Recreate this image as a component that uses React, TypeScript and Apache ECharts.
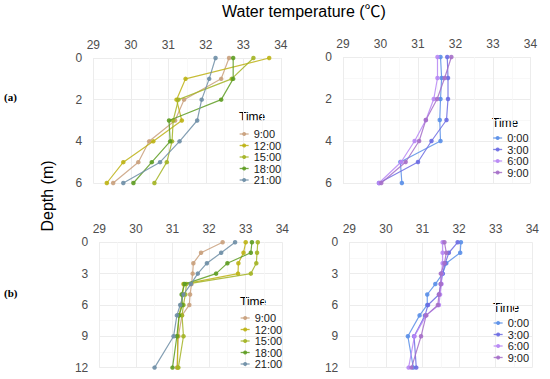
import React, { useEffect, useRef } from "react";
import * as echarts from "echarts";

// ---------- data ----------
const depthTop = [0, 1, 2, 3, 4, 5, 6];
const depthBottom = [0, 1, 2, 3, 4, 5, 6, 7, 9, 12];

const leftTimes = ["9:00", "12:00", "15:00", "18:00", "21:00"];
const rightTimes = ["0:00", "3:00", "6:00", "9:00"];

const leftColors = ["#C9A07C", "#BDB214", "#A3B424", "#5E9C22", "#6E8EA6"];
const rightColors = ["#5A8FE8", "#6C6CE2", "#B786F4", "#A56FC8"];

// (a) left panel: temperature per depth (depthTop)
const aLeft_0900 = [32.62, 32.41, 31.42, 31.18, 30.49, 30.2, 29.53];
const aLeft_1200 = [33.69, 31.46, 31.22, 31.36, 30.6, 29.8, 29.36];
const aLeft_1500 = [33.27, 32.69, 31.27, 31.13, 31.1, 30.96, 30.63];
const aLeft_1800 = [32.73, 32.73, 32.41, 31.02, 31.05, 30.56, 30.07];
const aLeft_2100 = [32.26, 32.09, 31.89, 31.77, 31.3, 30.78, 29.8];

// (a) right panel
const aRight_0000 = [31.6, 31.63, 31.6, 31.58, 31.6, 30.53, 30.57];
const aRight_0300 = [31.78, 31.8, 31.8, 31.76, 31.36, 31.0, 29.96];
const aRight_0600 = [31.52, 31.52, 31.42, 31.21, 30.91, 30.55, 29.96];
const aRight_0900 = [31.89, 31.71, 31.51, 31.21, 31.03, 30.67, 30.02];

// (b) left panel: temperature per depth (depthBottom)
const bLeft_0900 = [32.37, 31.78, 31.57, 31.55, 31.52, 31.48, 31.46, 31.26, 31.16, 31.12];
const bLeft_1200 = [33.0, 32.94, 32.8, 32.79, 31.3, 31.28, 31.24, 31.18, 31.14, 31.14];
const bLeft_1500 = [33.33, 33.31, 33.29, 33.14, 31.38, 31.35, 31.3, 31.26, 31.3, 31.16];
const bLeft_1800 = [33.17, 33.14, 32.5, 32.19, 31.33, 31.25, 31.27, 31.18, 31.12, 31.0];
const bLeft_2100 = [32.71, 32.33, 31.94, 31.69, 31.5, 31.3, 31.21, 31.12, 31.03, 30.51];

// (b) right panel
const bRight_0000 = [32.05, 32.03, 31.65, 31.55, 31.35, 31.13, 31.13, 30.92, 30.6, 30.75];
const bRight_0300 = [31.96, 31.72, 31.62, 31.55, 31.5, 31.45, 31.15, 31.07, 30.77, 30.83];
const bRight_0600 = [31.55, 31.55, 31.55, 31.52, 31.52, 31.48, 31.45, 31.1, 30.78, 30.62];
const bRight_0900 = [31.6, 31.65, 31.6, 31.5, 31.5, 31.45, 31.42, 31.1, 30.96, 30.7];

const xTicks = [29, 30, 31, 32, 33, 34];
const yTicksTop = [0, 2, 4, 6];
const yTicksBottom = [0, 3, 6, 9, 12];

const FONT = "'Liberation Sans', Arial, sans-serif";
const TITLE_FONT = "'Liberation Sans', 'Noto Sans CJK SC', sans-serif";

const panels = [
  { values: [aLeft_0900, aLeft_1200, aLeft_1500, aLeft_1800, aLeft_2100], names: leftTimes, colors: leftColors, depth: depthTop },
  { values: [aRight_0000, aRight_0300, aRight_0600, aRight_0900], names: rightTimes, colors: rightColors, depth: depthTop },
  { values: [bLeft_0900, bLeft_1200, bLeft_1500, bLeft_1800, bLeft_2100], names: leftTimes, colors: leftColors, depth: depthBottom },
  { values: [bRight_0000, bRight_0300, bRight_0600, bRight_0900], names: rightTimes, colors: rightColors, depth: depthBottom },
];

const grids = [
  { left: 93.3, top: 58, width: 187.5, height: 125 },
  { left: 343, top: 57, width: 187.5, height: 126 },
  { left: 99.3, top: 242.3, width: 183, height: 125.3 },
  { left: 349.3, top: 242.3, width: 183, height: 125.3 },
];

const legendPos = [
  { left: 239, top: 128.5, title: [239, 117] },
  { left: 492.5, top: 132.5, title: [492, 123] },
  { left: 240, top: 312.5, title: [240, 302] },
  { left: 493, top: 317.5, title: [493, 308] },
];

export default function App() {
  const ref = useRef<HTMLDivElement>(null);

  useEffect(() => {
    if (!ref.current) return;
    const chart = echarts.init(ref.current, undefined, { renderer: "svg" });

    const xAxis = grids.map((_, i) => ({
      type: "value",
      gridIndex: i,
      position: "top",
      min: xTicks[0],
      max: xTicks[xTicks.length - 1],
      interval: 1,
      axisLine: { show: false },
      axisTick: { show: false },
      axisLabel: { color: "#4D4D4D", fontSize: 12, margin: 7, fontFamily: FONT },
      splitLine: { show: true, lineStyle: { color: "#ECECEC", width: 1 } },
      minorTick: { show: false, splitNumber: 2 },
      minorSplitLine: { show: true, lineStyle: { color: "#F6F6F6", width: 0.8 } },
    }));

    const yAxis = grids.map((_, i) => {
      const ticks = i < 2 ? yTicksTop : yTicksBottom;
      return {
        type: "value",
        gridIndex: i,
        inverse: true,
        min: ticks[0],
        max: ticks[ticks.length - 1],
        interval: ticks[1] - ticks[0],
        axisLine: { show: false },
        axisTick: { show: false },
        axisLabel: { color: "#4D4D4D", fontSize: 12, margin: 11, fontFamily: FONT },
        splitLine: { show: true, lineStyle: { color: "#ECECEC", width: 1 } },
        minorTick: { show: false, splitNumber: 2 },
        minorSplitLine: { show: true, lineStyle: { color: "#F6F6F6", width: 0.8 } },
      };
    });

    const series: any[] = [];
    panels.forEach((p, gi) => {
      p.values.forEach((vals, si) => {
        series.push({
          type: "line",
          name: p.names[si],
          xAxisIndex: gi,
          yAxisIndex: gi,
          data: vals.map((v, k) => [v, p.depth[k]]),
          symbol: "circle",
          symbolSize: 4.5,
          lineStyle: { color: p.colors[si], width: 1.2, opacity: 0.85 },
          itemStyle: { color: p.colors[si], opacity: 0.9 },
          emphasis: { disabled: true },
          z: 2 + si,
        });
      });
    });

    const legend = panels.map((p, gi) => ({
      orient: "vertical",
      left: legendPos[gi].left,
      top: legendPos[gi].top,
      itemWidth: 9,
      itemHeight: 5,
      itemGap: 0.5,
      padding: 0,
      selectedMode: false,
      textStyle: { fontSize: 11, lineHeight: 11, color: "#1A1A1A", fontFamily: FONT },
      data: p.names.map((n, si) => ({
        name: n,
        itemStyle: { color: p.colors[si] },
        lineStyle: { color: p.colors[si], width: 1.3 },
      })),
    }));

    const graphic: any[] = [
      {
        type: "text",
        x: 47,
        y: 196,
        rotation: Math.PI / 2,
        style: { text: "Depth (m)", font: `16px ${FONT}`, fill: "#000", textAlign: "center", textVerticalAlign: "middle" },
      },
      {
        type: "text",
        x: 4,
        y: 97,
        style: { text: "(a)", font: "bold 11px 'Liberation Serif', serif", fill: "#000", textVerticalAlign: "middle" },
      },
      {
        type: "text",
        x: 4,
        y: 293,
        style: { text: "(b)", font: "bold 11px 'Liberation Serif', serif", fill: "#000", textVerticalAlign: "middle" },
      },
      ...legendPos.map((lp) => ({
        type: "text",
        x: lp.title[0],
        y: lp.title[1],
        style: { text: "Time", font: `12px ${FONT}`, fill: "#000", textVerticalAlign: "middle" },
      })),
    ];

    chart.setOption({
      animation: false,
      textStyle: { fontFamily: FONT },
      title: [
        {
          text: "Water temperature (℃)",
          left: 222,
          top: 3,
          padding: 0,
          textStyle: { fontSize: 16, fontWeight: "normal", color: "#000", fontFamily: TITLE_FONT },
        },
      ],
      grid: grids,
      xAxis,
      yAxis,
      legend,
      series,
      graphic,
    });

    return () => chart.dispose();
  }, []);

  return (
    <div
      ref={ref}
      style={{ position: "fixed", left: 0, top: 0, width: 550, height: 379, background: "#fff" }}
    />
  );
}
